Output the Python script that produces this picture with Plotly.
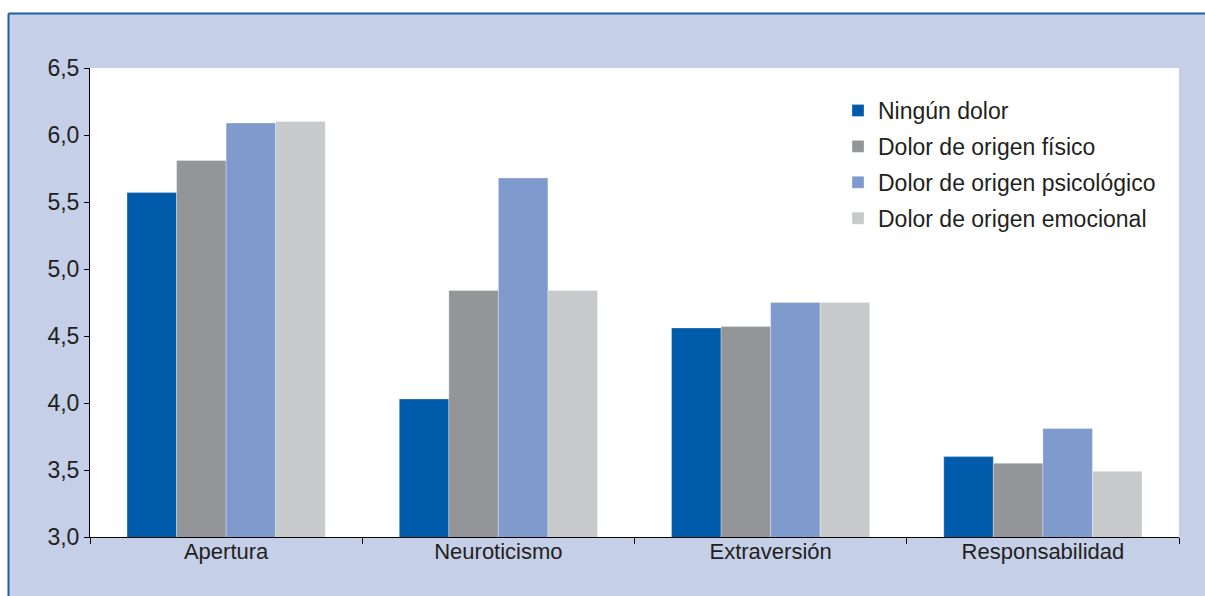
import plotly.graph_objects as go

categories = ["Apertura", "Neuroticismo", "Extraversión", "Responsabilidad"]
series_names = ["Ningún dolor", "Dolor de origen físico",
                "Dolor de origen psicológico", "Dolor de origen emocional"]
ningun = [5.57, 4.03, 4.56, 3.60]
fisico = [5.81, 4.84, 4.57, 3.55]
psicologico = [6.09, 5.68, 4.75, 3.81]
emocional = [6.10, 4.84, 4.75, 3.49]
values = [ningun, fisico, psicologico, emocional]
colors = ["#005bab", "#939598", "#7f9acc", "#c8c9cb"]

FONT = "Liberation Sans, Arial, sans-serif"
TXT = "#231f20"
BG = "#c5cfe7"

fig = go.Figure()
for i, (name, vals, col) in enumerate(zip(series_names, values, colors)):
    fig.add_trace(go.Bar(
        x=categories, y=vals, name=name, legendgroup=f"g{i}",
        marker=dict(color=col, line=dict(color="rgba(255,255,255,0.5)", width=0.6)),
    ))

W, H = 1205, 596
L, R, T, B = 90, 26, 68, 59
pw, ph = W - L - R, H - T - B

def px_x(p):
    return (p - L) / pw

def px_y(p):
    return (H - B - p) / ph

FRAME = "#1f5fa8"
shapes = [
    dict(type="rect", xref="paper", yref="paper", layer="below",
         x0=px_x(-5), x1=px_x(W + 5), y0=px_y(13.5), y1=px_y(-5),
         fillcolor="white", line=dict(width=0)),
    dict(type="rect", xref="paper", yref="paper", layer="below",
         x0=px_x(-5), x1=px_x(8.5), y0=px_y(H + 5), y1=px_y(-5),
         fillcolor="white", line=dict(width=0)),
    dict(type="line", xref="paper", yref="paper", layer="below",
         x0=px_x(8.5), x1=px_x(W), y0=px_y(13.5), y1=px_y(13.5),
         line=dict(color=FRAME, width=2)),
    dict(type="line", xref="paper", yref="paper", layer="below",
         x0=px_x(8.5), x1=px_x(8.5), y0=px_y(13.5), y1=px_y(H),
         line=dict(color=FRAME, width=2)),
]

fig.update_layout(
    width=W, height=H,
    margin=dict(l=L, r=R, t=T, b=B, pad=0),
    paper_bgcolor=BG, plot_bgcolor="white",
    barmode="group", bargap=0.272, bargroupgap=0,
    separators=",.",
    font=dict(family=FONT, size=23, color=TXT),
    showlegend=True,
    legend=dict(x=px_x(838), y=px_y(89), xanchor="left", yanchor="top",
                bgcolor="rgba(0,0,0,0)", font=dict(size=23, color=TXT),
                tracegroupgap=3, traceorder="grouped"),
    shapes=shapes,
    xaxis=dict(showline=True, linecolor="black", linewidth=1,
               ticks="outside", tickson="boundaries", ticklen=6,
               tickcolor="black", showgrid=False, ticklabelstandoff=-5,
               tickfont=dict(size=22, color=TXT)),
    yaxis=dict(range=[3, 6.5], dtick=0.5, tick0=3, tickformat=".1f",
               showline=True, linecolor="black", linewidth=1,
               ticks="outside", ticklen=5, tickcolor="black",
               showgrid=False, zeroline=False,
               tickfont=dict(size=23, color=TXT)),
)

fig.write_html(
    "out.html",
    config={"displayModeBar": False},
    post_script="document.body.style.margin='0';document.body.style.overflow='hidden';",
)
